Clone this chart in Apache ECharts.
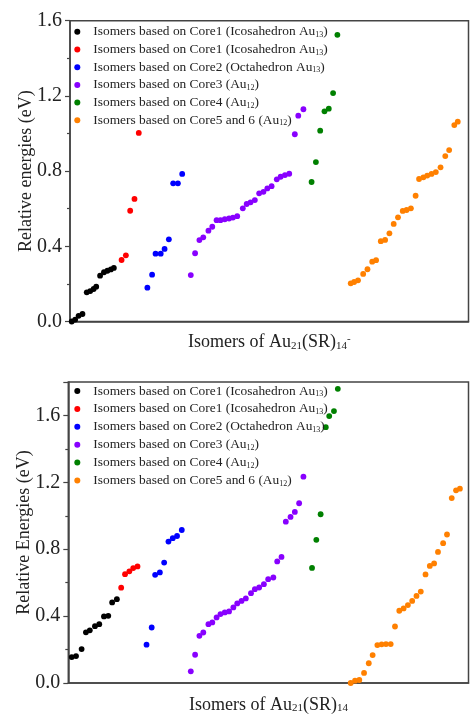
<!DOCTYPE html>
<html>
<head>
<meta charset="utf-8">
<script src="https://cdn.jsdelivr.net/npm/echarts@6/dist/echarts.min.js"></script>
<style>
html,body{margin:0;padding:0;background:#fff;}
#c{width:470px;height:715px;}
</style>
</head>
<body>
<div id="c"></div>
<script>
// ---------- Legend labels (rich text: {s|..} = subscript) ----------
const legendLabels = [
  'Isomers based on Core1 (Icosahedron Au{s|13}{n|)}',
  'Isomers based on Core1 (Icosahedron Au{s|13}{n|)}',
  'Isomers based on Core2 (Octahedron Au{s|13}{n|)}',
  'Isomers based on Core3 (Au{s|12}{n|)}',
  'Isomers based on Core4 (Au{s|12}{n|)}',
  'Isomers based on Core5 and 6 (Au{s|12}{n|)}'
];
const colors = ['#000000', '#ff0000', '#0000ff', '#8800ff', '#008000', '#ff8000'];
const yTicksTop = [0, 0.4, 0.8, 1.2, 1.6];
const yTicksBottom = [0, 0.4, 0.8, 1.2, 1.6];

// ---------- Top chart: Au21(SR)14^- (x = isomer position, y = relative energy eV) ----------
const topCore1aX = [0.4, 1.2, 2.0, 2.9, 3.9, 4.7, 5.5, 6.1, 7.0, 7.9, 8.7, 9.5, 10.2];
const topCore1aY = [0.00, 0.01, 0.03, 0.04, 0.155, 0.162, 0.173, 0.185, 0.244, 0.262, 0.27, 0.277, 0.285];
const topCore1bX = [12.0, 13.0, 14.0, 15.0, 16.0];
const topCore1bY = [0.327, 0.352, 0.589, 0.652, 1.003];
const topCore2X = [18.0, 19.1, 19.9, 21.1, 22.0, 23.0, 24.0, 25.1, 26.1];
const topCore2Y = [0.18, 0.249, 0.361, 0.361, 0.386, 0.437, 0.735, 0.735, 0.785];
const topCore3X = [28.1, 29.1, 30.1, 31.0, 32.2, 33.1, 34.1, 35.0, 36.0, 37.0, 37.9, 38.9, 40.2, 41.1, 42.0, 43.0, 44.0, 45.0, 45.9, 46.9, 48.1, 49.0, 50.0, 51.0, 52.3, 53.1, 54.3];
const topCore3Y = [0.247, 0.363, 0.433, 0.448, 0.483, 0.504, 0.539, 0.539, 0.544, 0.548, 0.553, 0.56, 0.602, 0.625, 0.634, 0.646, 0.682, 0.69, 0.708, 0.72, 0.756, 0.77, 0.779, 0.786, 0.996, 1.095, 1.129];
const topCore4X = [56.2, 57.2, 58.2, 59.2, 60.2, 61.2, 62.2];
const topCore4Y = [0.742, 0.848, 1.015, 1.118, 1.132, 1.215, 1.525];
const topCore56X = [65.3, 66.1, 67.0, 68.2, 69.2, 70.3, 71.2, 72.3, 73.3, 74.3, 75.3, 76.3, 77.4, 78.3, 79.3, 80.4, 81.2, 82.2, 83.1, 84.1, 85.1, 86.2, 87.3, 88.2, 89.4, 90.2];
const topCore56Y = [0.203, 0.21, 0.219, 0.253, 0.278, 0.318, 0.326, 0.427, 0.434, 0.469, 0.519, 0.554, 0.588, 0.593, 0.602, 0.669, 0.758, 0.767, 0.776, 0.785, 0.795, 0.82, 0.88, 0.912, 1.045, 1.063];

// ---------- Bottom chart: Au21(SR)14 ----------
const botCore1aX = [0.8, 1.8, 3.1, 4.1, 5.0, 6.2, 7.2, 8.3, 9.3, 10.2, 11.3];
const botCore1aY = [0.155, 0.161, 0.203, 0.303, 0.315, 0.34, 0.352, 0.398, 0.402, 0.482, 0.501];
const botCore1bX = [12.3, 13.2, 14.2, 15.1, 16.1];
const botCore1bY = [0.57, 0.651, 0.668, 0.687, 0.697];
const botCore2X = [18.2, 19.4, 20.2, 21.3, 22.3, 23.3, 24.3, 25.3, 26.4];
const botCore2Y = [0.229, 0.332, 0.647, 0.661, 0.72, 0.846, 0.866, 0.879, 0.915];
const botCore3X = [28.5, 29.5, 30.5, 31.4, 32.6, 33.5, 34.5, 35.4, 36.4, 37.4, 38.4, 39.3, 40.3, 41.3, 42.5, 43.4, 44.4, 45.5, 46.5, 47.7, 48.6, 49.6, 50.6, 51.7, 52.7, 53.7, 54.7];
const botCore3Y = [0.07, 0.169, 0.282, 0.302, 0.352, 0.362, 0.392, 0.412, 0.422, 0.428, 0.452, 0.476, 0.491, 0.506, 0.537, 0.561, 0.571, 0.591, 0.621, 0.631, 0.727, 0.754, 0.965, 0.993, 1.023, 1.075, 1.234];
const botCore4X = [56.7, 57.7, 58.7, 59.9, 60.7, 61.8, 62.7];
const botCore4Y = [0.688, 0.856, 1.009, 1.53, 1.596, 1.626, 1.759];
const botCore56X = [65.7, 66.7, 67.7, 68.8, 69.9, 70.8, 71.9, 72.9, 73.9, 75.0, 76.0, 77.0, 78.0, 79.0, 80.0, 81.0, 82.0, 83.1, 84.1, 85.1, 86.0, 87.2, 88.1, 89.2, 90.2, 91.1];
const botCore56Y = [0.0, 0.014, 0.018, 0.06, 0.118, 0.167, 0.227, 0.231, 0.233, 0.233, 0.338, 0.432, 0.446, 0.466, 0.491, 0.521, 0.547, 0.649, 0.70, 0.715, 0.784, 0.836, 0.888, 1.106, 1.152, 1.162];

const topSets = [[topCore1aX, topCore1aY], [topCore1bX, topCore1bY], [topCore2X, topCore2Y], [topCore3X, topCore3Y], [topCore4X, topCore4Y], [topCore56X, topCore56Y]];
const botSets = [[botCore1aX, botCore1aY], [botCore1bX, botCore1bY], [botCore2X, botCore2Y], [botCore3X, botCore3Y], [botCore4X, botCore4Y], [botCore56X, botCore56Y]];

const FONT = '"Liberation Serif", "Times New Roman", serif';
const TXT = '#222';

function zip(xs, ys) { return xs.map((x, i) => [x, ys[i]]); }

const series = [];
topSets.forEach((s, i) => series.push({
  name: 't' + i, type: 'scatter', xAxisIndex: 0, yAxisIndex: 0,
  data: zip(s[0], s[1]), symbol: 'circle', symbolSize: 5.8, clip: false,
  itemStyle: { color: colors[i], opacity: 1 }
}));
botSets.forEach((s, i) => series.push({
  name: 'b' + i, type: 'scatter', xAxisIndex: 1, yAxisIndex: 1,
  data: zip(s[0], s[1]), symbol: 'circle', symbolSize: 5.8, clip: false,
  itemStyle: { color: colors[i], opacity: 1 }
}));

const legendRich = {
  n: { fontFamily: FONT, fontSize: 13.4, color: TXT, lineHeight: 14 },
  s: { fontFamily: FONT, fontSize: 8, color: TXT, lineHeight: 5, verticalAlign: 'bottom' }
};
function legendFmt(name) { return '{n|' + legendLabels[+name.slice(1)].replace('Au{s|', 'Au}{s|'); }
function legendCfg(prefix, top, gap) {
  return {
    orient: 'vertical', left: 74.3, top: top, padding: 0, itemGap: gap,
    itemWidth: 6, itemHeight: 6, icon: 'circle', selectedMode: false,
    data: [0, 1, 2, 3, 4, 5].map(i => prefix + i),
    formatter: legendFmt,
    textStyle: { fontFamily: FONT, fontSize: 13.4, color: TXT, padding: [0, 0, 0, 8], rich: legendRich }
  };
}

const axisLineStyle = { color: '#444', width: 1.5 };
const nameRich = {
  n: { fontFamily: FONT, fontSize: 18, color: TXT, lineHeight: 18 },
  s: { fontFamily: FONT, fontSize: 11, color: TXT, lineHeight: 6, verticalAlign: 'bottom' },
  p: { fontFamily: FONT, fontSize: 11, color: TXT, lineHeight: 6, verticalAlign: 'top' }
};

function xAxisCfg(gridIndex, max, name, gap) {
  return {
    type: 'value', gridIndex: gridIndex, min: 0, max: max,
    name: name, nameLocation: 'middle', nameGap: gap, nameMoveOverlap: false,
    nameTextStyle: { fontFamily: FONT, fontSize: 18, color: TXT, rich: nameRich },
    axisLine: { show: true, lineStyle: axisLineStyle },
    axisTick: { show: false }, axisLabel: { show: false }, splitLine: { show: false }
  };
}
function yAxisCfg(gridIndex, max, name, gap) {
  return {
    type: 'value', gridIndex: gridIndex, min: 0, max: max, interval: 0.4,
    name: name, nameLocation: 'middle', nameGap: gap, nameMoveOverlap: false,
    nameTextStyle: { fontFamily: FONT, fontSize: 18, color: TXT },
    axisLine: { show: true, lineStyle: axisLineStyle },
    axisTick: { show: true, length: 5, lineStyle: { color: '#444', width: 1.2 } },
    minorTick: { show: true, splitNumber: 2, length: 3, lineStyle: { color: '#444', width: 1.2 } },
    axisLabel: { fontFamily: FONT, fontSize: 20, color: TXT, margin: 8, showMaxLabel: max === 1.6,
      formatter: v => v.toFixed(1) },
    splitLine: { show: false }, minorSplitLine: { show: false }
  };
}

const chart = echarts.init(document.getElementById('c'), null, { renderer: 'canvas' });
chart.setOption({
  animation: false,
  backgroundColor: '#fff',
  grid: [
    { left: 70, right: 1.5, top: 20.7, height: 300.8, show: true, borderColor: '#444', borderWidth: 1.5, backgroundColor: 'transparent' },
    { left: 68.3, right: 1.5, top: 382, height: 301.3, show: true, borderColor: '#444', borderWidth: 1.5, backgroundColor: 'transparent' }
  ],
  legend: [legendCfg('t', 25.3, 4.2), legendCfg('b', 384.5, 4.4)],
  xAxis: [
    xAxisCfg(0, 92.7, '{n|Isomers of Au}{s|21}{n|(SR)}{s|14}{p|-}', 12),
    xAxisCfg(1, 93.1, '{n|Isomers of Au}{s|21}{n|(SR)}{s|14}', 13)
  ],
  yAxis: [
    yAxisCfg(0, 1.6, 'Relative energies (eV)', 35),
    yAxisCfg(1, 1.8, 'Relative Energies (eV)', 35)
  ],
  series: series
});
</script>
</body>
</html>
